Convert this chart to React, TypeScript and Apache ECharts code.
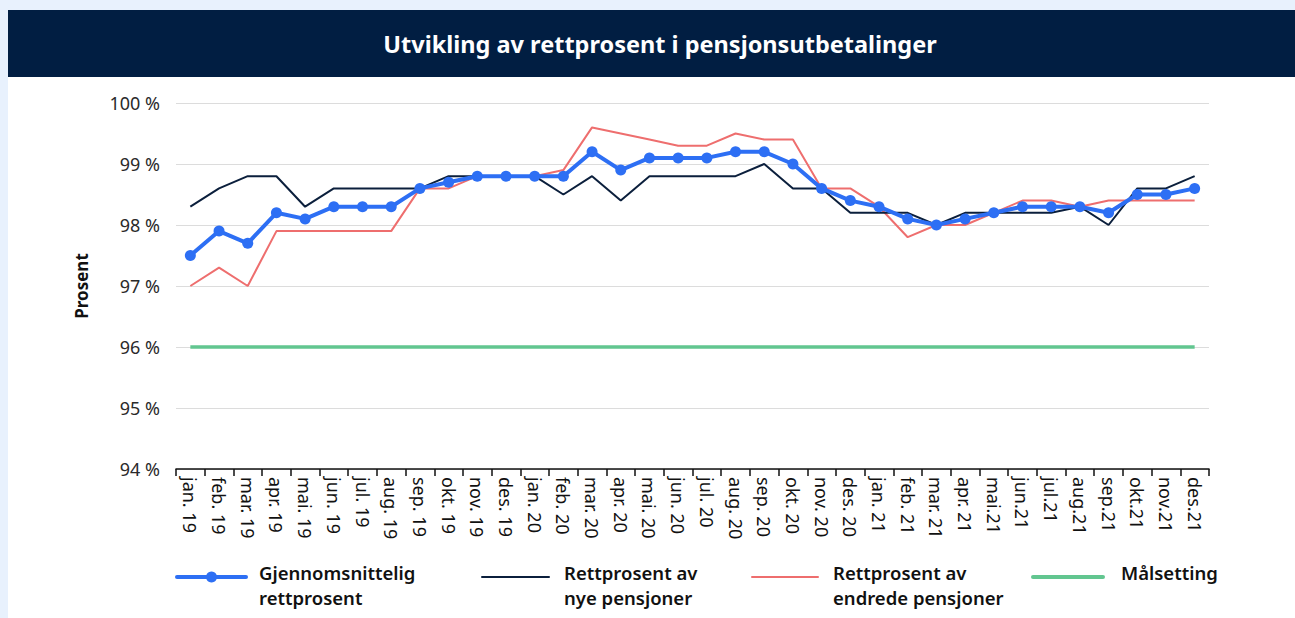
import React, { useEffect, useRef } from "react";
import * as echarts from "echarts";

const categories = [
  "jan. 19", "feb. 19", "mar. 19", "apr. 19", "mai. 19", "jun. 19", "jul. 19", "aug. 19", "sep. 19", "okt. 19", "nov. 19", "des. 19",
  "jan. 20", "feb. 20", "mar. 20", "apr. 20", "mai. 20", "jun. 20", "jul. 20", "aug. 20", "sep. 20", "okt. 20", "nov. 20", "des. 20",
  "jan. 21", "feb. 21", "mar. 21", "apr. 21", "mai.21", "jun.21", "jul.21", "aug.21", "sep.21", "okt.21", "nov.21", "des.21",
];

const gjennomsnitt = [
  97.5, 97.9, 97.7, 98.2, 98.1, 98.3, 98.3, 98.3, 98.6, 98.7, 98.8, 98.8,
  98.8, 98.8, 99.2, 98.9, 99.1, 99.1, 99.1, 99.2, 99.2, 99.0, 98.6, 98.4,
  98.3, 98.1, 98.0, 98.1, 98.2, 98.3, 98.3, 98.3, 98.2, 98.5, 98.5, 98.6,
];

const nye = [
  98.3, 98.6, 98.8, 98.8, 98.3, 98.6, 98.6, 98.6, 98.6, 98.8, 98.8, 98.8,
  98.8, 98.5, 98.8, 98.4, 98.8, 98.8, 98.8, 98.8, 99.0, 98.6, 98.6, 98.2,
  98.2, 98.2, 98.0, 98.2, 98.2, 98.2, 98.2, 98.3, 98.0, 98.6, 98.6, 98.8,
];

const endrede = [
  97.0, 97.3, 97.0, 97.9, 97.9, 97.9, 97.9, 97.9, 98.6, 98.6, 98.8, 98.8,
  98.8, 98.9, 99.6, 99.5, 99.4, 99.3, 99.3, 99.5, 99.4, 99.4, 98.6, 98.6,
  98.3, 97.8, 98.0, 98.0, 98.2, 98.4, 98.4, 98.3, 98.4, 98.4, 98.4, 98.4,
];

const maalsetting = categories.map(() => 96);

const seriesNames = [
  "Gjennomsnittelig\nrettprosent",
  "Rettprosent av\nnye pensjoner",
  "Rettprosent av\nendrede pensjoner",
  "Målsetting",
];

const yTicks = { min: 94, max: 100, interval: 1 };

const FONT = "'Noto Sans', 'Open Sans', sans-serif";
const BLUE = "#2d6ff4";
const NAVY = "#0b1f3c";
const RED = "#ee6e6e";
const GREEN = "#62c690";

export default function App() {
  const ref = useRef<HTMLDivElement>(null);

  useEffect(() => {
    document.body.style.margin = "0";
    if (!ref.current) return;
    const chart = echarts.init(ref.current, null, { renderer: "svg" });

    const legendY = 577;
    const legendItems = [
      { x1: 177, x2: 246, tx: 259, color: BLUE, width: 4, dot: true, name: seriesNames[0] },
      { x1: 482, x2: 549, tx: 564, color: NAVY, width: 2, dot: false, name: seriesNames[1] },
      { x1: 752, x2: 818, tx: 833, color: RED, width: 2, dot: false, name: seriesNames[2] },
      { x1: 1033, x2: 1103, tx: 1121, color: GREEN, width: 4, dot: false, name: seriesNames[3] },
    ];
    const legendGraphics: any[] = [];
    legendItems.forEach((it) => {
      legendGraphics.push({
        type: "line",
        shape: { x1: it.x1, y1: legendY, x2: it.x2, y2: legendY },
        style: { stroke: it.color, lineWidth: it.width, lineCap: "round" },
      });
      if (it.dot) {
        legendGraphics.push({
          type: "circle",
          shape: { cx: (it.x1 + it.x2) / 2, cy: legendY, r: 5.5 },
          style: { fill: it.color },
        });
      }
      legendGraphics.push({
        type: "text",
        x: it.tx,
        y: 560,
        style: {
          text: it.name,
          fill: "#111",
          font: `600 18.5px ${FONT}`,
          lineHeight: 25,
          textAlign: "left",
          textVerticalAlign: "top",
        },
      });
    });

    chart.setOption({
      animation: false,
      graphic: [
        {
          type: "text",
          x: 660,
          y: 44,
          style: {
            text: "Utvikling av rettprosent i pensjonsutbetalinger",
            fill: "#ffffff",
            font: `bold 23.5px ${FONT}`,
            textAlign: "center",
            textVerticalAlign: "middle",
          },
        },
        ...legendGraphics,
      ],
      grid: { left: 176, right: 86, top: 103, bottom: 149, containLabel: false },
      xAxis: {
        type: "category",
        data: categories,
        boundaryGap: true,
        axisLine: { show: true, lineStyle: { color: "#111", width: 1.5 } },
        axisTick: { show: true, length: 7, lineStyle: { color: "#111", width: 1.5 } },
        axisLabel: {
          interval: 0,
          rotate: -90,
          margin: 8,
          color: "#111",
          fontSize: 18,
          fontFamily: FONT,
        },
        splitLine: { show: false },
      },
      yAxis: {
        type: "value",
        min: yTicks.min,
        max: yTicks.max,
        interval: yTicks.interval,
        name: "Prosent",
        nameLocation: "middle",
        nameRotate: 90,
        nameGap: 86,
        nameTextStyle: { color: "#111", fontSize: 17, fontWeight: "bold", fontFamily: FONT },
        axisLine: { show: false },
        axisTick: { show: false },
        axisLabel: {
          formatter: "{value} %",
          color: "#2a2a2a",
          fontSize: 18,
          fontFamily: FONT,
          margin: 16,
        },
        splitLine: { lineStyle: { color: "#dcdcdc", width: 1.2 } },
      },
      series: [
        {
          name: seriesNames[3],
          type: "line",
          data: maalsetting,
          symbol: "none",
          lineStyle: { color: GREEN, width: 3.5 },
          z: 2,
        },
        {
          name: seriesNames[2],
          type: "line",
          data: endrede,
          symbol: "none",
          lineStyle: { color: RED, width: 2 },
          z: 3,
        },
        {
          name: seriesNames[1],
          type: "line",
          data: nye,
          symbol: "none",
          lineStyle: { color: NAVY, width: 2 },
          z: 4,
        },
        {
          name: seriesNames[0],
          type: "line",
          data: gjennomsnitt,
          symbol: "circle",
          symbolSize: 11,
          itemStyle: { color: BLUE },
          lineStyle: { color: BLUE, width: 4 },
          z: 5,
        },
      ],
    });

    return () => chart.dispose();
  }, []);

  return (
    <div style={{ position: "relative", width: 1295, height: 618, background: "#e8f1fd", overflow: "hidden" }}>
      <div style={{ position: "absolute", left: 8, top: 10, width: 1287, height: 67, background: "#011e42" }} />
      <div style={{ position: "absolute", left: 8, top: 77, width: 1287, height: 541, background: "#ffffff" }} />
      <div ref={ref} style={{ position: "absolute", left: 0, top: 0, width: 1295, height: 618 }} />
    </div>
  );
}
